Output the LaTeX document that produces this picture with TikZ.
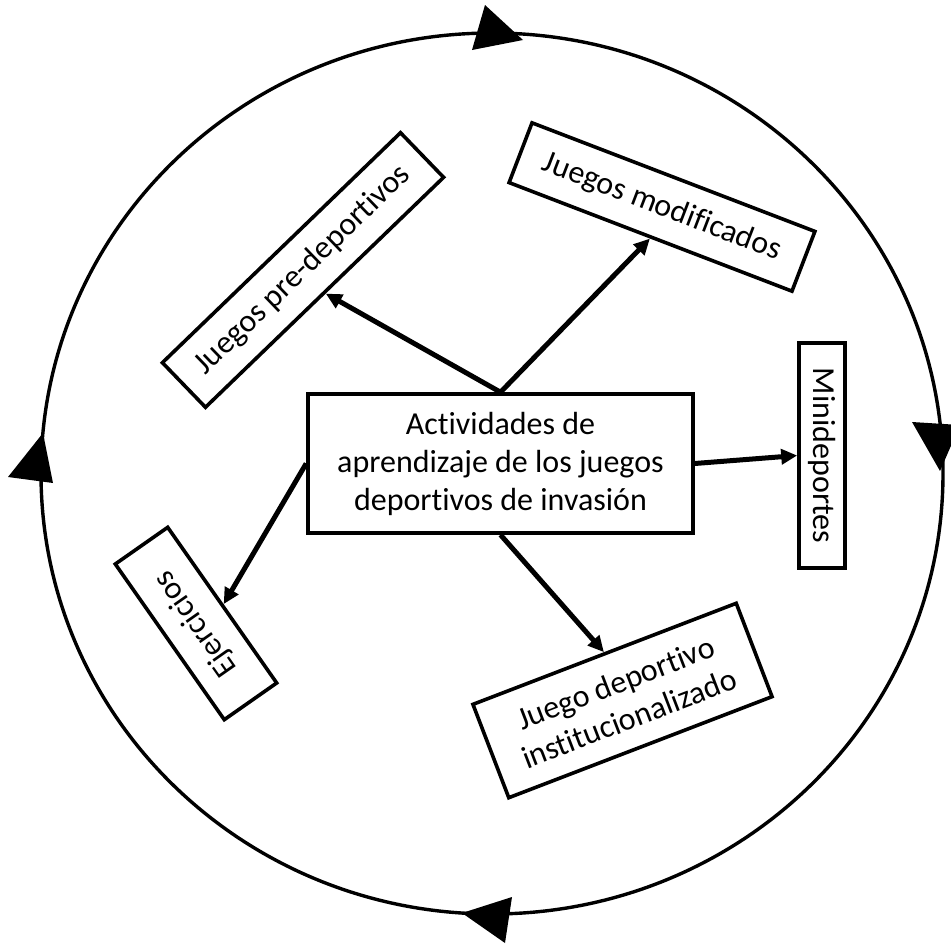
\documentclass[tikz,border=0pt]{standalone}
\usepackage{fontspec}
\setmainfont{Carlito}[Ligatures=NoCommon]
\usetikzlibrary{arrows.meta}
\begin{document}
\begin{tikzpicture}[x=1pt,y=-1pt,
  box/.style={draw, line width=3.6pt, inner sep=0pt, align=center,
    font=\fontsize{32}{38}\selectfont},
  link/.style={line width=5pt, -{Triangle[length=16pt,width=15pt]}},
  cyclehead/.style={fill=black}]
\clip (0,0) rectangle (951,948);
\fill[white] (0,0) rectangle (951,948);

% surrounding cycle
\draw[line width=3.4pt] (492,473.5) ellipse [x radius=451pt, y radius=440.5pt];
\fill[cyclehead] (485,5) -- (523,40) -- (472,50) -- cycle;
\fill[cyclehead] (912,422) -- (960,425) -- (940,471) -- cycle;
\fill[cyclehead] (512,897) -- (505,943) -- (462,913) -- cycle;
\fill[cyclehead] (43,433) -- (8,477) -- (53,483) -- cycle;

% central box and the activity types
\node[box, minimum width=385pt, minimum height=139pt] (c) at (500.5,463.5)
  {Actividades de\\aprendizaje de los juegos\\deportivos de invasión};
\node[box, rotate=44, minimum width=331pt, minimum height=62pt] (pre) at (303,270)
  {Juegos pre-deportivos};
\node[box, rotate=-21, minimum width=303pt, minimum height=64pt] (mod) at (662,207)
  {Juegos modificados};
\node[box, rotate=-90, minimum width=225pt, minimum height=46pt] (mini) at (822,455.5)
  {Minideportes};
\node[box, rotate=125, minimum width=190pt, minimum height=64pt] (eje) at (196,623.5)
  {Ejercicios};
\node[box, rotate=21, minimum width=282pt, minimum height=100pt] (inst) at (622.5,700.5)
  {Juego deportivo\\institucionalizado};

% connectors
\draw[link] (c.north) -- (pre.south);
\draw[link] (c.north) -- (mod.south);
\draw[link] (c.east) -- (mini.south);
\draw[link] (c.west) -- (eje.south);
\draw[link] (c.south) -- (inst.north);
\end{tikzpicture}
\end{document}
